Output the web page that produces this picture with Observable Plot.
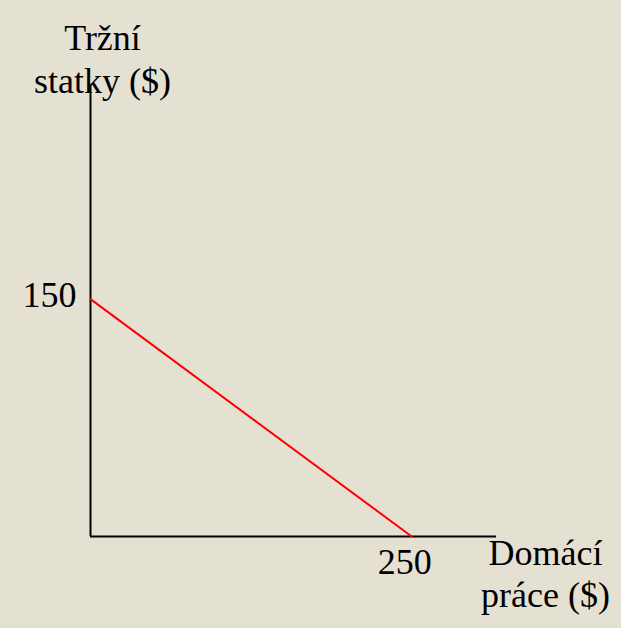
<!DOCTYPE html>
<html>
<head>
<meta charset="utf-8">
<script src="https://cdn.jsdelivr.net/npm/d3@7"></script>
<script src="https://cdn.jsdelivr.net/npm/@observablehq/plot@0.6"></script>
<style>
  html, body { margin: 0; padding: 0; background: #E5E1D2; }
  svg { display: block; }
</style>
</head>
<body>
<div id="chart"></div>
<script>
// Budget line: market goods vs household work
const xValues = [0, 250];
const yValues = [150, 0];
const xTicks = [250];
const yTicks = [150];
const yLabelLines = ["Tržní", "statky ($)"];
const xLabelLines = ["Domácí", "práce ($)"];

const line = xValues.map((x, i) => ({x, y: yValues[i]}));
const font = "Liberation Serif, Times New Roman, serif";
const fs = 36;

const chart = Plot.plot({
  width: 621,
  height: 628,
  marginLeft: 90,
  marginRight: 125,
  marginTop: 85,
  marginBottom: 92,
  style: {background: "#E5E1D2", fontFamily: font, fontSize: fs + "px", color: "black"},
  x: {domain: [0, 316], axis: null},
  y: {domain: [0, 285], axis: null},
  marks: [
    Plot.ruleX([0], {stroke: "black", strokeWidth: 2}),
    Plot.ruleY([0], {stroke: "black", strokeWidth: 2}),
    Plot.line(line, {x: "x", y: "y", stroke: "#FF0000", strokeWidth: 2}),
    Plot.text(xTicks, {x: d => d, y: 0, text: d => String(d), dy: 26, dx: -7, fontSize: fs, fill: "black"}),
    Plot.text(yTicks, {x: 0, y: d => d, text: d => String(d), textAnchor: "end", dx: -14, dy: -4, fontSize: fs, fill: "black"}),
    Plot.text([yLabelLines[0]], {frameAnchor: "top-left", text: d => d, textAnchor: "middle", dx: 12, dy: -61, fontSize: fs, fill: "black"}),
    Plot.text([yLabelLines[1]], {frameAnchor: "top-left", text: d => d, textAnchor: "middle", dx: 12, dy: -18, fontSize: fs, fill: "black"}),
    Plot.text([xLabelLines[0]], {frameAnchor: "bottom-right", text: d => d, textAnchor: "middle", dx: 49, dy: 28, fontSize: fs, fill: "black"}),
    Plot.text([xLabelLines[1]], {frameAnchor: "bottom-right", text: d => d, textAnchor: "middle", dx: 49, dy: 70, fontSize: fs, fill: "black"})
  ]
});
document.getElementById("chart").appendChild(chart);
</script>
</body>
</html>
